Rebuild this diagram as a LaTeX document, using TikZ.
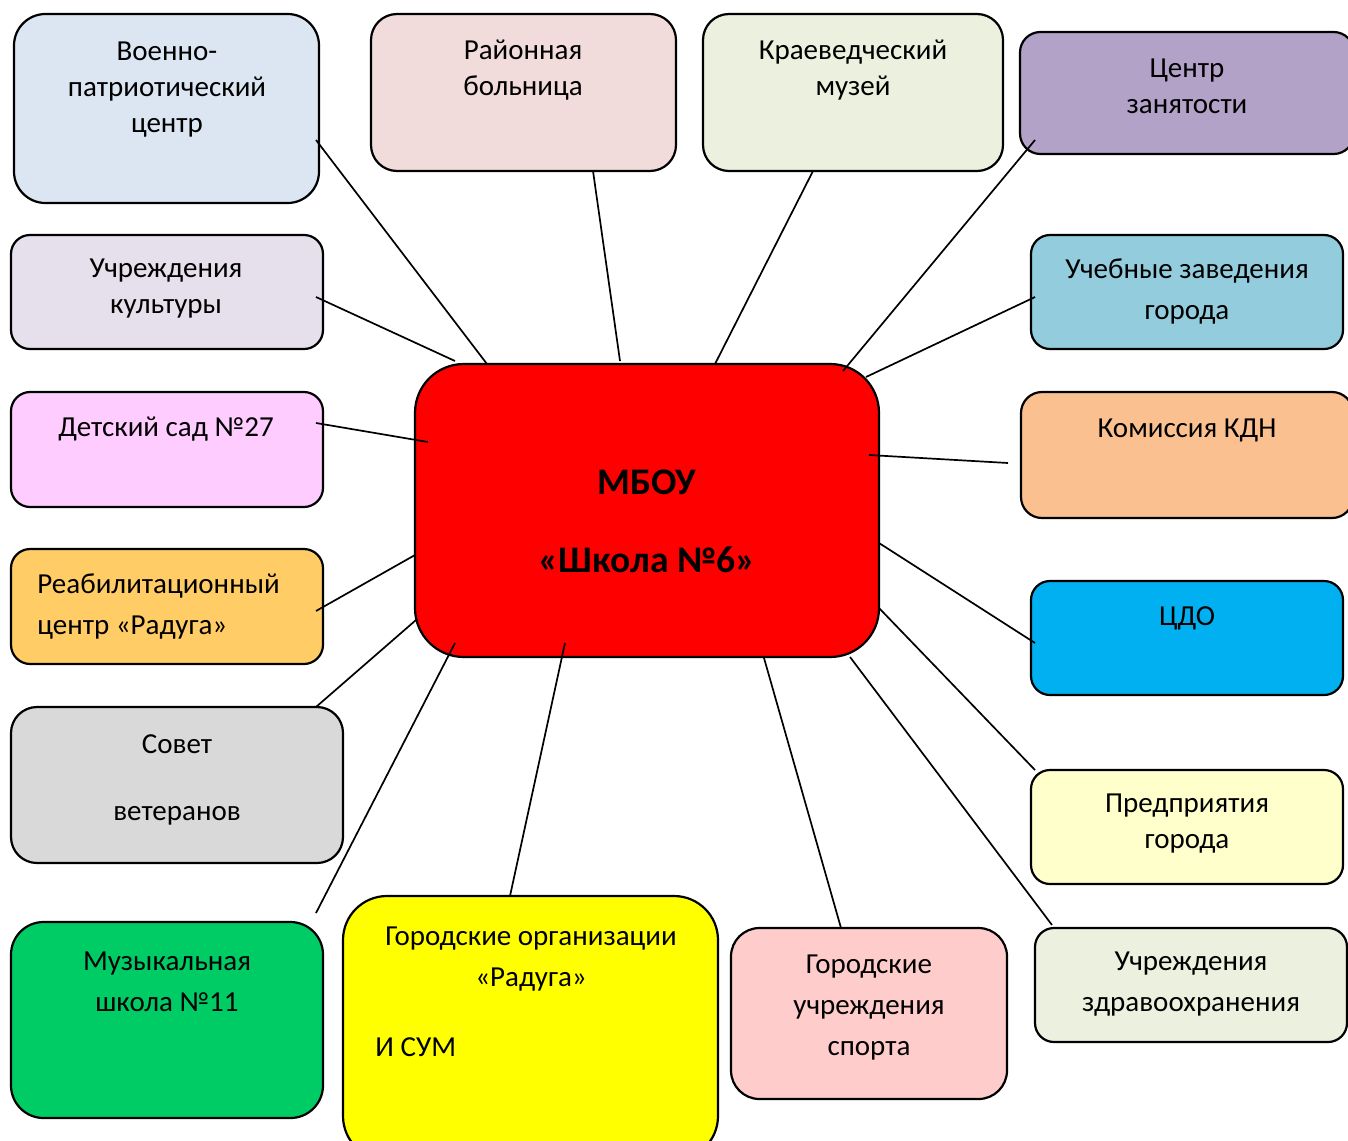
\documentclass[tikz,border=0pt]{standalone}
\usepackage{fontspec}
\setmainfont{Carlito}
\usetikzlibrary{calc}

\definecolor{cVpc}{HTML}{DCE6F2}
\definecolor{cBol}{HTML}{F2DCDB}
\definecolor{cMuz}{HTML}{EBF1DE}
\definecolor{cCzn}{HTML}{B3A2C7}
\definecolor{cKult}{HTML}{E6E0EC}
\definecolor{cUcheb}{HTML}{93CDDD}
\definecolor{cSad}{HTML}{FFCCFF}
\definecolor{cKdn}{HTML}{FAC090}
\definecolor{cReab}{HTML}{FFCC66}
\definecolor{cCdo}{HTML}{00B0F0}
\definecolor{cSovet}{HTML}{D9D9D9}
\definecolor{cPred}{HTML}{FFFFCC}
\definecolor{cMuzsh}{HTML}{00CC66}
\definecolor{cGorg}{HTML}{FFFF00}
\definecolor{cSport}{HTML}{FFCCCC}
\definecolor{cZdrav}{HTML}{EBF1DE}

\begin{document}
\begin{tikzpicture}[x=0.5pt,y=-0.5pt,
	box/.style={draw=black,line width=1.1pt,inner sep=0pt},
	txt/.style={align=center,inner sep=0pt,font=\fontsize{14.5}{18}\selectfont},
	txtw/.style={txt,font=\fontsize{14.5}{20.5}\selectfont},
	link/.style={draw=black,line width=0.85pt}]
		\useasboundingbox (0,0) rectangle (1348,1140);
		\clip (0,0) rectangle (1348,1140);
		
		% boxes
		\node[box,fill=cVpc,minimum width=152.5pt,minimum height=94.5pt,rounded corners=15.75pt] (vpc) at (166.5,108.5) {};
		\node[box,fill=cBol,minimum width=152.5pt,minimum height=78.5pt,rounded corners=13pt] (bol) at (523.5,92.5) {};
		\node[box,fill=cMuz,minimum width=150pt,minimum height=78.5pt,rounded corners=13pt] (muz) at (853,92.5) {};
		\node[box,fill=cCzn,minimum width=167pt,minimum height=61pt,rounded corners=10.2pt] (czn) at (1187,93) {};
		\node[box,fill=cKult,minimum width=156pt,minimum height=57pt,rounded corners=9.5pt] (kult) at (167,292) {};
		\node[box,fill=cUcheb,minimum width=156pt,minimum height=57pt,rounded corners=9.5pt] (ucheb) at (1187,292) {};
		\node[box,fill=cSad,minimum width=156pt,minimum height=57.5pt,rounded corners=9.6pt] (sad) at (167,449.5) {};
		\node[box,fill=cKdn,minimum width=166pt,minimum height=63pt,rounded corners=10.5pt] (kdn) at (1187,455) {};
		\node[box,fill=cReab,minimum width=156pt,minimum height=57.5pt,rounded corners=9.6pt] (reab) at (167,606.5) {};
		\node[box,fill=cCdo,minimum width=156pt,minimum height=57pt,rounded corners=9.5pt] (cdo) at (1187,638) {};
		\node[box,fill=cSovet,minimum width=166pt,minimum height=78pt,rounded corners=13pt] (sovet) at (177,785) {};
		\node[box,fill=cPred,minimum width=156pt,minimum height=57pt,rounded corners=9.5pt] (pred) at (1187,827) {};
		\node[box,fill=cMuzsh,minimum width=156pt,minimum height=98pt,rounded corners=16.3pt] (muzsh) at (167,1020) {};
		\node[box,fill=cGorg,minimum width=187.5pt,minimum height=132pt,rounded corners=22pt] (gorg) at (530.5,1028) {};
		\node[box,fill=cSport,minimum width=138pt,minimum height=85.5pt,rounded corners=14.25pt] (sport) at (869,1013.5) {};
		\node[box,fill=cZdrav,minimum width=156pt,minimum height=57pt,rounded corners=9.5pt] (zdrav) at (1191,985) {};
		\node[box,fill=red,minimum width=232pt,minimum height=146.5pt,rounded corners=24.4pt] (main) at (647,510.5) {};
		
		% texts
		\node[txt] (tVpc) at (167,90) {Военно-\\патриотический\\центр};
		\node[txt] (tBol) at (523,70.5) {Районная\\больница};
		\node[txt] (tMuz) at (853,70) {Краеведческий\\музей};
		\node[txt] (tCzn) at (1187,86) {Центр\\занятости};
		\node[txt] (tKult) at (166,289) {Учреждения\\культуры};
		\node[txtw] (tUcheb) at (1187,291.5) {Учебные заведения\\города};
		\node[txt] (tSad) at (166,429) {Детский сад №27};
		\node[txt] (tKdn) at (1187,430) {Комиссия КДН};
		\node[txtw,align=left,anchor=west] (tReab) at (37,606.5) {Реабилитационный\\центр «Радуга»};
		\node[txt] (tCdo) at (1187,618) {ЦДО};
		\node[txt] (tSovet) at (177,779.5) {Совет\\[15.5pt]ветеранов};
		\node[txt] (tPred) at (1187,824) {Предприятия\\города};
		\node[txtw] (tMuzsh) at (167,982) {Музыкальная\\школа №11};
		\node[txtw] (tGorg) at (531,959) {Городские организации\\«Радуга»};
		\node[txt,anchor=west] (tSum) at (375,1047) {И СУМ};
		\node[txtw] (tSport) at (869,1008) {Городские\\учреждения\\спорта};
		\node[txtw] (tZdrav) at (1191,984.5) {Учреждения\\здравоохранения};
		\node[align=center,inner sep=0pt,font=\fontsize{18.8}{39}\selectfont\bfseries] (tMain) at (647,521) {МБОУ\\«Школа №6»};
		
		% links
		\foreach \a/\ax/\ay/\bx/\by in {vpc/149.5/31.5/-160/-146.5, bol/69.5/78.5/-27/-149.5,
			muz/-40/78.5/68/-146.5, czn/-152/47/196/-139.5, kult/149/5/-192/-149.5,
			ucheb/-152/5/219/-133.5, sad/149/-26.5/-219/-68.5, kdn/-179/8/222/-55.5,
			reab/149/4.5/-232/44.5, cdo/-152/5/232/32.5, sovet/139/-78/-231/109.5,
			pred/-152/-57/232/97.5, muzsh/149/-107/-192/132.5, gorg/-20.5/-132/-82/132.5,
			sport/-28/-85.5/117/147.5, zdrav/-139/-60/203/146.5} {
		\draw[link] ($(\a.center)+(\ax,\ay)$) -- ($(main.center)+(\bx,\by)$);
		}
	\end{tikzpicture}
\end{document}
